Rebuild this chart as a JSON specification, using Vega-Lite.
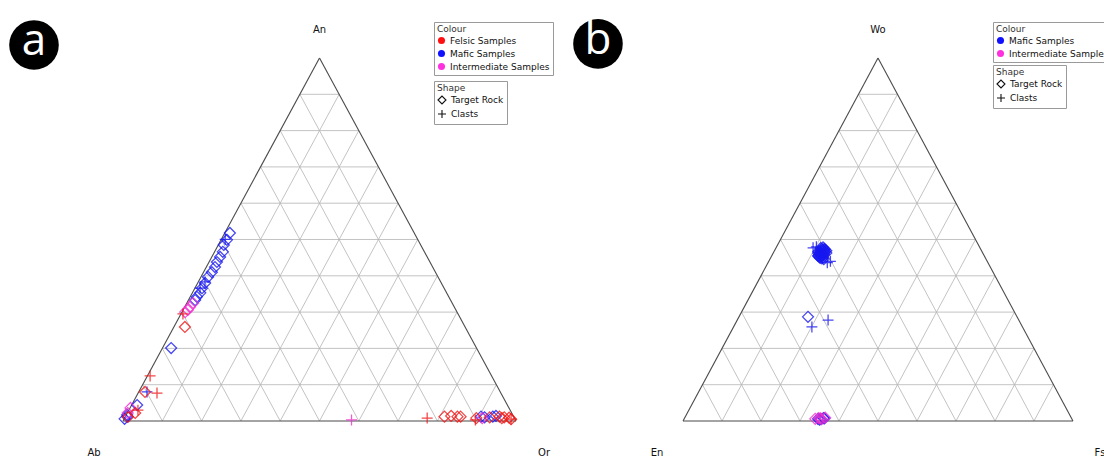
{
  "$schema": "https://vega.github.io/schema/vega-lite/v6.json",
  "padding": 0,
  "spacing": 0,
  "bounds": "flush",
  "background": "white",
  "config": {
    "view": {"stroke": null},
    "font": "DejaVu Sans",
    "legend": {
      "orient": "none",
      "titleFontSize": 9,
      "titleFontWeight": "normal",
      "titleColor": "#333333",
      "labelFontSize": 9,
      "labelColor": "#111111",
      "strokeColor": "#9a9a9a",
      "fillColor": "white",
      "padding": 3,
      "titlePadding": 2,
      "rowPadding": -2,
      "labelOffset": 4,
      "cornerRadius": 0,
      "symbolBaseStrokeColor": "#111111"
    }
  },
  "resolve": {
    "scale": {"x": "independent", "y": "independent", "fill": "independent", "stroke": "independent", "shape": "independent"},
    "legend": {"fill": "independent", "shape": "independent"}
  },
  "datasets": {
    "grid": [
      {"x": 0.05, "y": 0.1, "x2": 0.95, "y2": 0.1},
      {"x": 0.1, "y": 0.2, "x2": 0.9, "y2": 0.2},
      {"x": 0.15, "y": 0.3, "x2": 0.85, "y2": 0.3},
      {"x": 0.2, "y": 0.4, "x2": 0.8, "y2": 0.4},
      {"x": 0.25, "y": 0.5, "x2": 0.75, "y2": 0.5},
      {"x": 0.3, "y": 0.6, "x2": 0.7, "y2": 0.6},
      {"x": 0.35, "y": 0.7, "x2": 0.65, "y2": 0.7},
      {"x": 0.4, "y": 0.8, "x2": 0.6, "y2": 0.8},
      {"x": 0.45, "y": 0.9, "x2": 0.55, "y2": 0.9},
      {"x": 0.1, "y": 0, "x2": 0.55, "y2": 0.9},
      {"x": 0.2, "y": 0, "x2": 0.6, "y2": 0.8},
      {"x": 0.3, "y": 0, "x2": 0.65, "y2": 0.7},
      {"x": 0.4, "y": 0, "x2": 0.7, "y2": 0.6},
      {"x": 0.5, "y": 0, "x2": 0.75, "y2": 0.5},
      {"x": 0.6, "y": 0, "x2": 0.8, "y2": 0.4},
      {"x": 0.7, "y": 0, "x2": 0.85, "y2": 0.3},
      {"x": 0.8, "y": 0, "x2": 0.9, "y2": 0.2},
      {"x": 0.9, "y": 0, "x2": 0.95, "y2": 0.1},
      {"x": 0.9, "y": 0, "x2": 0.45, "y2": 0.9},
      {"x": 0.8, "y": 0, "x2": 0.4, "y2": 0.8},
      {"x": 0.7, "y": 0, "x2": 0.35, "y2": 0.7},
      {"x": 0.6, "y": 0, "x2": 0.3, "y2": 0.6},
      {"x": 0.5, "y": 0, "x2": 0.25, "y2": 0.5},
      {"x": 0.4, "y": 0, "x2": 0.2, "y2": 0.4},
      {"x": 0.3, "y": 0, "x2": 0.15, "y2": 0.3},
      {"x": 0.2, "y": 0, "x2": 0.1, "y2": 0.2},
      {"x": 0.1, "y": 0, "x2": 0.05, "y2": 0.1}
    ],
    "edges": [
      {"x": 0, "y": 0, "x2": 1, "y2": 0},
      {"x": 0, "y": 0, "x2": 0.5, "y2": 1},
      {"x": 1, "y": 0, "x2": 0.5, "y2": 1}
    ],
    "feldspar": [
      {"group": "Mafic Samples", "type": "Target Rock", "An": 51.8, "Or": 1.3},
      {"group": "Mafic Samples", "type": "Target Rock", "An": 49.9, "Or": 1.5},
      {"group": "Mafic Samples", "type": "Target Rock", "An": 48.5, "Or": 1.4},
      {"group": "Mafic Samples", "type": "Target Rock", "An": 46.6, "Or": 2.1},
      {"group": "Mafic Samples", "type": "Target Rock", "An": 45.2, "Or": 2.1},
      {"group": "Mafic Samples", "type": "Target Rock", "An": 43.8, "Or": 2.0},
      {"group": "Mafic Samples", "type": "Target Rock", "An": 42.4, "Or": 2.2},
      {"group": "Mafic Samples", "type": "Target Rock", "An": 41.0, "Or": 2.1},
      {"group": "Mafic Samples", "type": "Target Rock", "An": 39.7, "Or": 1.8},
      {"group": "Mafic Samples", "type": "Target Rock", "An": 38.0, "Or": 1.9},
      {"group": "Mafic Samples", "type": "Target Rock", "An": 36.6, "Or": 1.8},
      {"group": "Mafic Samples", "type": "Target Rock", "An": 35.3, "Or": 2.0},
      {"group": "Mafic Samples", "type": "Target Rock", "An": 34.2, "Or": 1.7},
      {"group": "Mafic Samples", "type": "Target Rock", "An": 33.3, "Or": 1.7},
      {"group": "Mafic Samples", "type": "Target Rock", "An": 20.1, "Or": 2.2},
      {"group": "Mafic Samples", "type": "Target Rock", "An": 4.4, "Or": 1.4},
      {"group": "Mafic Samples", "type": "Target Rock", "An": 1.7, "Or": 0.2},
      {"group": "Mafic Samples", "type": "Target Rock", "An": 0.6, "Or": 0.1},
      {"group": "Mafic Samples", "type": "Target Rock", "An": 1.2, "Or": 0.5},
      {"group": "Mafic Samples", "type": "Target Rock", "An": 1.2, "Or": 90.5},
      {"group": "Mafic Samples", "type": "Target Rock", "An": 1.0, "Or": 91.5},
      {"group": "Mafic Samples", "type": "Target Rock", "An": 1.2, "Or": 93.5},
      {"group": "Mafic Samples", "type": "Target Rock", "An": 1.4, "Or": 94.2},
      {"group": "Mafic Samples", "type": "Clasts", "An": 50.0, "Or": 1.0},
      {"group": "Mafic Samples", "type": "Clasts", "An": 38.3, "Or": 1.7},
      {"group": "Mafic Samples", "type": "Clasts", "An": 36.6, "Or": 1.3},
      {"group": "Mafic Samples", "type": "Clasts", "An": 8.0, "Or": 2.1},
      {"group": "Intermediate Samples", "type": "Target Rock", "An": 32.5, "Or": 1.6},
      {"group": "Intermediate Samples", "type": "Target Rock", "An": 31.4, "Or": 1.3},
      {"group": "Intermediate Samples", "type": "Target Rock", "An": 30.6, "Or": 1.2},
      {"group": "Intermediate Samples", "type": "Target Rock", "An": 30.0, "Or": 0.8},
      {"group": "Intermediate Samples", "type": "Target Rock", "An": 3.6, "Or": 0.1},
      {"group": "Intermediate Samples", "type": "Target Rock", "An": 2.2, "Or": 0.1},
      {"group": "Intermediate Samples", "type": "Target Rock", "An": 0.8, "Or": 91.0},
      {"group": "Intermediate Samples", "type": "Clasts", "An": 0.3, "Or": 58.0},
      {"group": "Felsic Samples", "type": "Target Rock", "An": 25.9, "Or": 2.8},
      {"group": "Felsic Samples", "type": "Target Rock", "An": 8.0, "Or": 1.6},
      {"group": "Felsic Samples", "type": "Target Rock", "An": 2.2, "Or": 2.0},
      {"group": "Felsic Samples", "type": "Target Rock", "An": 1.1, "Or": 0.7},
      {"group": "Felsic Samples", "type": "Target Rock", "An": 1.2, "Or": 81.2},
      {"group": "Felsic Samples", "type": "Target Rock", "An": 1.4, "Or": 82.8},
      {"group": "Felsic Samples", "type": "Target Rock", "An": 1.2, "Or": 84.5},
      {"group": "Felsic Samples", "type": "Target Rock", "An": 1.2, "Or": 85.3},
      {"group": "Felsic Samples", "type": "Target Rock", "An": 0.8, "Or": 89.5},
      {"group": "Felsic Samples", "type": "Target Rock", "An": 1.0, "Or": 92.8},
      {"group": "Felsic Samples", "type": "Target Rock", "An": 1.2, "Or": 95.2},
      {"group": "Felsic Samples", "type": "Target Rock", "An": 1.0, "Or": 96.5},
      {"group": "Felsic Samples", "type": "Target Rock", "An": 0.9, "Or": 97.8},
      {"group": "Felsic Samples", "type": "Target Rock", "An": 0.5, "Or": 98.5},
      {"group": "Felsic Samples", "type": "Target Rock", "An": 0.8, "Or": 96.0},
      {"group": "Felsic Samples", "type": "Clasts", "An": 29.5, "Or": 0.5},
      {"group": "Felsic Samples", "type": "Clasts", "An": 12.4, "Or": 0.7},
      {"group": "Felsic Samples", "type": "Clasts", "An": 7.7, "Or": 4.8},
      {"group": "Felsic Samples", "type": "Clasts", "An": 3.0, "Or": 2.3},
      {"group": "Felsic Samples", "type": "Clasts", "An": 0.8, "Or": 77.0},
      {"group": "Felsic Samples", "type": "Clasts", "An": 0.3, "Or": 89.5},
      {"group": "Felsic Samples", "type": "Clasts", "An": 0.5, "Or": 98.5}
    ],
    "pyroxene": [
      {"group": "Mafic Samples", "type": "Target Rock", "Wo": 46.5, "Fs": 12.0},
      {"group": "Mafic Samples", "type": "Target Rock", "Wo": 46.0, "Fs": 12.5},
      {"group": "Mafic Samples", "type": "Target Rock", "Wo": 45.5, "Fs": 12.8},
      {"group": "Mafic Samples", "type": "Target Rock", "Wo": 47.0, "Fs": 11.8},
      {"group": "Mafic Samples", "type": "Target Rock", "Wo": 46.8, "Fs": 12.6},
      {"group": "Mafic Samples", "type": "Target Rock", "Wo": 45.8, "Fs": 13.2},
      {"group": "Mafic Samples", "type": "Target Rock", "Wo": 46.2, "Fs": 11.6},
      {"group": "Mafic Samples", "type": "Target Rock", "Wo": 47.3, "Fs": 12.2},
      {"group": "Mafic Samples", "type": "Target Rock", "Wo": 45.2, "Fs": 12.4},
      {"group": "Mafic Samples", "type": "Target Rock", "Wo": 46.6, "Fs": 13.0},
      {"group": "Mafic Samples", "type": "Target Rock", "Wo": 45.0, "Fs": 13.4},
      {"group": "Mafic Samples", "type": "Target Rock", "Wo": 47.6, "Fs": 11.5},
      {"group": "Mafic Samples", "type": "Target Rock", "Wo": 46.4, "Fs": 12.9},
      {"group": "Mafic Samples", "type": "Target Rock", "Wo": 45.6, "Fs": 11.9},
      {"group": "Mafic Samples", "type": "Target Rock", "Wo": 46.9, "Fs": 13.3},
      {"group": "Mafic Samples", "type": "Target Rock", "Wo": 44.6, "Fs": 13.8},
      {"group": "Mafic Samples", "type": "Target Rock", "Wo": 47.8, "Fs": 12.0},
      {"group": "Mafic Samples", "type": "Target Rock", "Wo": 46.1, "Fs": 12.2},
      {"group": "Mafic Samples", "type": "Target Rock", "Wo": 45.3, "Fs": 13.0},
      {"group": "Mafic Samples", "type": "Target Rock", "Wo": 46.7, "Fs": 11.4},
      {"group": "Mafic Samples", "type": "Target Rock", "Wo": 44.8, "Fs": 13.2},
      {"group": "Mafic Samples", "type": "Target Rock", "Wo": 46.3, "Fs": 13.6},
      {"group": "Mafic Samples", "type": "Target Rock", "Wo": 45.9, "Fs": 12.1},
      {"group": "Mafic Samples", "type": "Target Rock", "Wo": 47.1, "Fs": 12.8},
      {"group": "Mafic Samples", "type": "Target Rock", "Wo": 46.0, "Fs": 13.1},
      {"group": "Mafic Samples", "type": "Target Rock", "Wo": 45.4, "Fs": 12.0},
      {"group": "Mafic Samples", "type": "Target Rock", "Wo": 47.4, "Fs": 12.6},
      {"group": "Mafic Samples", "type": "Target Rock", "Wo": 44.9, "Fs": 12.7},
      {"group": "Mafic Samples", "type": "Target Rock", "Wo": 28.7, "Fs": 17.7},
      {"group": "Mafic Samples", "type": "Target Rock", "Wo": 0.6, "Fs": 34.3},
      {"group": "Mafic Samples", "type": "Target Rock", "Wo": 0.5, "Fs": 35.1},
      {"group": "Mafic Samples", "type": "Target Rock", "Wo": 0.8, "Fs": 35.6},
      {"group": "Mafic Samples", "type": "Target Rock", "Wo": 0.4, "Fs": 34.8},
      {"group": "Mafic Samples", "type": "Target Rock", "Wo": 0.7, "Fs": 35.9},
      {"group": "Mafic Samples", "type": "Clasts", "Wo": 47.7, "Fs": 9.5},
      {"group": "Mafic Samples", "type": "Clasts", "Wo": 48.0, "Fs": 10.2},
      {"group": "Mafic Samples", "type": "Clasts", "Wo": 44.0, "Fs": 15.8},
      {"group": "Mafic Samples", "type": "Clasts", "Wo": 43.6, "Fs": 15.2},
      {"group": "Mafic Samples", "type": "Clasts", "Wo": 46.0, "Fs": 12.4},
      {"group": "Mafic Samples", "type": "Clasts", "Wo": 45.5, "Fs": 13.0},
      {"group": "Mafic Samples", "type": "Clasts", "Wo": 25.9, "Fs": 20.1},
      {"group": "Mafic Samples", "type": "Clasts", "Wo": 27.8, "Fs": 23.3},
      {"group": "Intermediate Samples", "type": "Target Rock", "Wo": 0.6, "Fs": 33.6},
      {"group": "Intermediate Samples", "type": "Target Rock", "Wo": 0.8, "Fs": 34.4},
      {"group": "Intermediate Samples", "type": "Target Rock", "Wo": 0.5, "Fs": 35.3},
      {"group": "Intermediate Samples", "type": "Target Rock", "Wo": 0.9, "Fs": 36.0},
      {"group": "Intermediate Samples", "type": "Target Rock", "Wo": 0.7, "Fs": 34.9}
    ]
  },
  "hconcat": [
    {
      "width": 552,
      "height": 460,
      "encoding": {
        "x": {"field": "x", "type": "quantitative", "scale": {"domain": [-0.31298, 1.0916], "nice": false, "zero": false}, "axis": null},
        "y": {"field": "y", "type": "quantitative", "scale": {"domain": [-0.10744, 1.15978], "nice": false, "zero": false}, "axis": null}
      },
      "layer": [
        {"data": {"name": "grid"}, "mark": {"type": "rule", "color": "#b4b4b4", "strokeWidth": 0.8}, "encoding": {"x2": {"field": "x2"}, "y2": {"field": "y2"}}},
        {"data": {"name": "edges"}, "mark": {"type": "rule", "color": "#4a4a4a", "strokeWidth": 1.1}, "encoding": {"x2": {"field": "x2"}, "y2": {"field": "y2"}}},
        {
          "data": {"name": "feldspar"},
          "transform": [
            {"calculate": "datum.Or / 100 + datum.An / 200", "as": "x"},
            {"calculate": "datum.An / 100", "as": "y"}
          ],
          "mark": {"type": "point", "filled": true, "shape": "circle", "size": 0},
          "encoding": {
            "fill": {"field": "group", "type": "nominal", "scale": {"domain": ["Felsic Samples", "Mafic Samples", "Intermediate Samples"], "range": ["#ff1010", "#1010ff", "#ff30dd"]},
              "legend": {"title": "Colour", "legendX": 434, "legendY": 22, "symbolType": "circle", "symbolSize": 50, "symbolStrokeWidth": 0, "rowPadding": 3, "symbolOpacity": 1}}
          }
        },
        {
          "data": {"name": "feldspar"},
          "transform": [
            {"calculate": "datum.Or / 100 + datum.An / 200", "as": "x"},
            {"calculate": "datum.An / 100", "as": "y"}
          ],
          "mark": {"type": "point", "filled": false, "strokeWidth": 1.25, "size": 120, "opacity": 0.8},
          "encoding": {
            "stroke": {"field": "group", "type": "nominal", "scale": {"domain": ["Felsic Samples", "Mafic Samples", "Intermediate Samples"], "range": ["#f01818", "#1818f0", "#f030d0"]}, "legend": null},
            "shape": {"field": "type", "type": "nominal", "scale": {"domain": ["Target Rock", "Clasts"], "range": ["diamond", "M-1,0H1M0,-1V1"]},
              "legend": {"title": "Shape", "legendX": 434, "legendY": 81, "symbolSize": 64, "symbolStrokeColor": "#111111", "symbolFillColor": "transparent", "symbolStrokeWidth": 1.1, "symbolOpacity": 1, "rowPadding": 0}}
          }
        },
        {"data": {"values": [{"label": "An", "x": 0.5, "y": 1}]}, "mark": {"type": "text", "fontSize": 10, "dy": -28, "color": "#111111"}, "encoding": {"text": {"field": "label"}}},
        {"data": {"values": [{"label": "Ab", "x": 0, "y": 0}]}, "mark": {"type": "text", "fontSize": 10, "dx": -29, "dy": 32, "color": "#111111"}, "encoding": {"text": {"field": "label"}}},
        {"data": {"values": [{"label": "Or", "x": 1, "y": 0}]}, "mark": {"type": "text", "fontSize": 10, "dx": 28, "dy": 32, "color": "#111111"}, "encoding": {"text": {"field": "label"}}},
        {"data": {"values": [{"label": "a", "x": -0.2265, "y": 1.036}]}, "mark": {"type": "point", "shape": "circle", "filled": true, "color": "black", "opacity": 1, "size": 2460}, "encoding": {}},
        {"data": {"values": [{"label": "a", "x": -0.2265, "y": 1.036}]}, "mark": {"type": "text", "font": "Open Sans", "fontSize": 44, "color": "white", "baseline": "middle", "dy": -3}, "encoding": {"text": {"field": "label"}}}
      ]
    },
    {
      "width": 552,
      "height": 460,
      "encoding": {
        "x": {"field": "x", "type": "quantitative", "scale": {"domain": [-0.3359, 1.07949], "nice": false, "zero": false}, "axis": null},
        "y": {"field": "y", "type": "quantitative", "scale": {"domain": [-0.10744, 1.15978], "nice": false, "zero": false}, "axis": null}
      },
      "layer": [
        {"data": {"name": "grid"}, "mark": {"type": "rule", "color": "#b4b4b4", "strokeWidth": 0.8}, "encoding": {"x2": {"field": "x2"}, "y2": {"field": "y2"}}},
        {"data": {"name": "edges"}, "mark": {"type": "rule", "color": "#4a4a4a", "strokeWidth": 1.1}, "encoding": {"x2": {"field": "x2"}, "y2": {"field": "y2"}}},
        {
          "data": {"name": "pyroxene"},
          "transform": [
            {"calculate": "datum.Fs / 100 + datum.Wo / 200", "as": "x"},
            {"calculate": "datum.Wo / 100", "as": "y"}
          ],
          "mark": {"type": "point", "filled": true, "shape": "circle", "size": 0},
          "encoding": {
            "fill": {"field": "group", "type": "nominal", "scale": {"domain": ["Mafic Samples", "Intermediate Samples"], "range": ["#1010ff", "#ff30dd"]},
              "legend": {"title": "Colour", "legendX": 441, "legendY": 22, "symbolType": "circle", "symbolSize": 50, "symbolStrokeWidth": 0, "rowPadding": 3, "symbolOpacity": 1}}
          }
        },
        {
          "data": {"name": "pyroxene"},
          "transform": [
            {"calculate": "datum.Fs / 100 + datum.Wo / 200", "as": "x"},
            {"calculate": "datum.Wo / 100", "as": "y"}
          ],
          "mark": {"type": "point", "filled": false, "strokeWidth": 1.25, "size": 120, "opacity": 0.8},
          "encoding": {
            "stroke": {"field": "group", "type": "nominal", "scale": {"domain": ["Mafic Samples", "Intermediate Samples"], "range": ["#1818f0", "#f030d0"]}, "legend": null},
            "shape": {"field": "type", "type": "nominal", "scale": {"domain": ["Target Rock", "Clasts"], "range": ["diamond", "M-1,0H1M0,-1V1"]},
              "legend": {"title": "Shape", "legendX": 441, "legendY": 65, "symbolSize": 64, "symbolStrokeColor": "#111111", "symbolFillColor": "transparent", "symbolStrokeWidth": 1.1, "symbolOpacity": 1, "rowPadding": 0}}
          }
        },
        {"data": {"values": [{"label": "Wo", "x": 0.5, "y": 1}]}, "mark": {"type": "text", "fontSize": 10, "dy": -28, "color": "#111111"}, "encoding": {"text": {"field": "label"}}},
        {"data": {"values": [{"label": "En", "x": 0, "y": 0}]}, "mark": {"type": "text", "fontSize": 10, "dx": -26, "dy": 32, "color": "#111111"}, "encoding": {"text": {"field": "label"}}},
        {"data": {"values": [{"label": "Fs", "x": 1, "y": 0}]}, "mark": {"type": "text", "fontSize": 10, "dx": 27, "dy": 32, "color": "#111111"}, "encoding": {"text": {"field": "label"}}},
        {"data": {"values": [{"label": "b", "x": -0.218, "y": 1.039}]}, "mark": {"type": "point", "shape": "circle", "filled": true, "color": "black", "opacity": 1, "size": 2460}, "encoding": {}},
        {"data": {"values": [{"label": "b", "x": -0.218, "y": 1.039}]}, "mark": {"type": "text", "font": "Open Sans", "fontSize": 44, "color": "white", "baseline": "middle", "dy": -3}, "encoding": {"text": {"field": "label"}}}
      ]
    }
  ]
}
